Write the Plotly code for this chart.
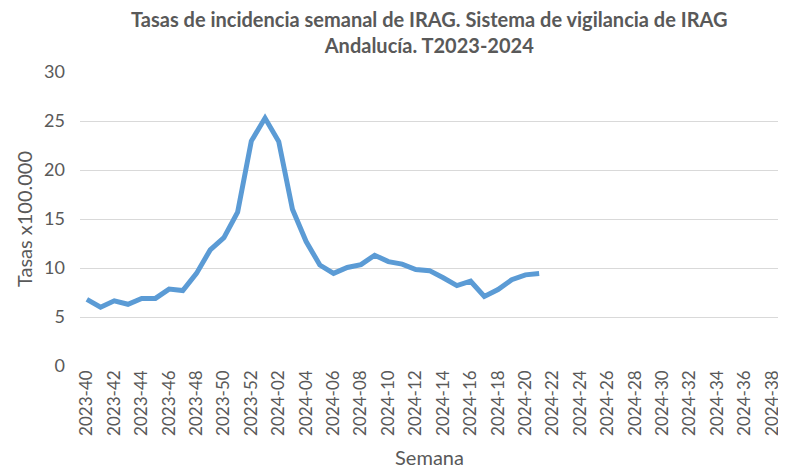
import plotly.graph_objects as go

weeks_2023 = [f"2023-{w:02d}" for w in range(40, 53)]
weeks_2024 = [f"2024-{w:02d}" for w in range(1, 39)]
categories = weeks_2023 + weeks_2024

rates = [6.8, 6.0, 6.65, 6.3, 6.9, 6.9, 7.85, 7.7, 9.45, 11.85,
         13.1, 15.7, 22.95, 25.3, 22.9, 16.0, 12.7, 10.3, 9.45, 10.05,
         10.35, 11.3, 10.65, 10.4, 9.85, 9.73, 9.0, 8.2, 8.65, 7.1,
         7.8, 8.8, 9.3, 9.45]

tick_labels = categories[::2]

title_text = "Tasas de incidencia semanal de IRAG. Sistema de vigilancia de IRAG<br>Andalucía. T2023-2024"
y_title = "Tasas x100.000"
x_title = "Semana"

font_family = "Lato, 'Open Sans', sans-serif"
gray = "#595959"

fig = go.Figure()
fig.add_trace(go.Scatter(
    x=categories[:len(rates)], y=rates, mode="lines",
    line=dict(color="#5B9BD5", width=5, shape="linear"),
    showlegend=False, hoverinfo="x+y",
))

fig.update_layout(
    width=778, height=464,
    margin=dict(l=72, r=7, t=64, b=106),
    paper_bgcolor="white", plot_bgcolor="white",
    font=dict(family=font_family, color=gray),
    annotations=[dict(
        text=title_text, xref="paper", yref="paper", x=0.5, y=1,
        xanchor="center", yanchor="bottom", yshift=13, showarrow=False,
        align="center",
        font=dict(family=font_family, size=20, color=gray, weight="bold"),
    )],
)

fig.update_xaxes(
    type="category", categoryorder="array", categoryarray=categories,
    range=[-0.5, len(categories) - 0.5],
    tickmode="array", tickvals=tick_labels, ticktext=tick_labels,
    tickangle=-90, tickfont=dict(size=17, color=gray),
    showgrid=False, showline=False, zeroline=False, ticks="",
    automargin=False,
    title=dict(text=x_title, font=dict(size=20, color=gray), standoff=16),
)
fig.update_yaxes(
    range=[0, 30], dtick=5, tick0=0,
    showgrid=True, gridcolor="#d9d9d9", gridwidth=1.3,
    zeroline=False, showline=False, ticks="",
    tickfont=dict(size=18, color=gray), ticklabelstandoff=14,
    automargin=False,
    title=dict(text=y_title, font=dict(size=20, color=gray), standoff=6),
)

fig.write_html("out.html")
